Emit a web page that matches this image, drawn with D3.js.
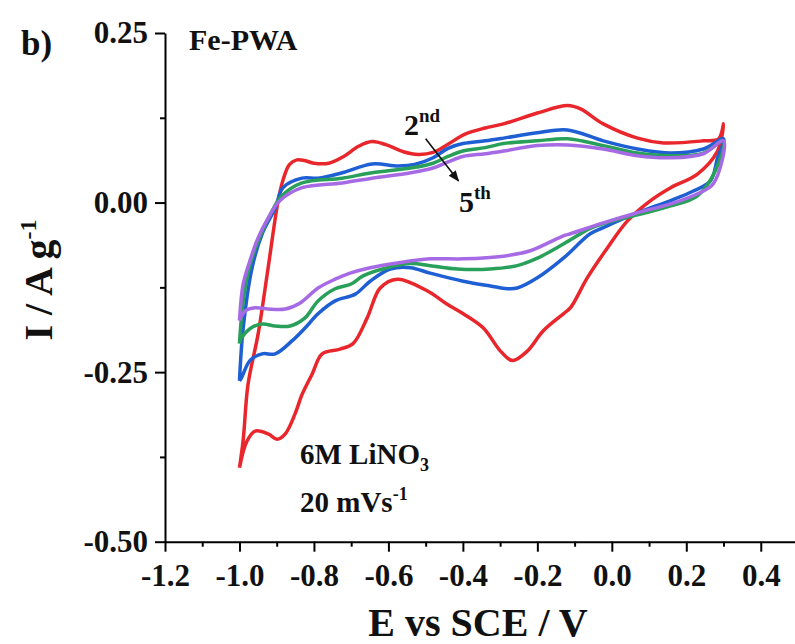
<!DOCTYPE html>
<html>
<head>
<meta charset="utf-8">
<script src="https://cdn.jsdelivr.net/npm/d3@7"></script>
<style>
    body { margin: 0; background: #fff; }
    text { font-family: "Liberation Serif", "Times New Roman", serif; font-weight: bold; fill: #111; }
</style>
</head>
<body>
<div id="chart"></div>
<script>
// cyclic voltammetry, Fe-PWA in 6M LiNO3 at 20 mV/s, [E (V), I (A/g)]
let cycle2 = [
    [-1.000,-0.391],[-0.990,-0.350],[-0.977,-0.268],[-0.950,-0.194],[-0.923,-0.096],[-0.896,0.003],
    [-0.882,0.035],[-0.866,0.056],[-0.846,0.063],[-0.825,0.062],[-0.800,0.058],[-0.760,0.058],
    [-0.720,0.068],[-0.680,0.083],[-0.644,0.090],[-0.605,0.085],[-0.560,0.075],[-0.520,0.071],
    [-0.480,0.074],[-0.440,0.086],[-0.394,0.101],[-0.340,0.110],[-0.291,0.116],[-0.200,0.132],
    [-0.119,0.143],[-0.084,0.138],[-0.023,0.116],[0.069,0.095],[0.139,0.088],[0.246,0.091],
    [0.287,0.094],[0.300,0.116],
    [0.284,0.076],[0.230,0.042],[0.158,0.022],[0.104,0.003],[0.042,-0.027],[-0.012,-0.067],
    [-0.066,-0.111],[-0.111,-0.155],[-0.130,-0.164],[-0.184,-0.189],[-0.227,-0.219],[-0.267,-0.233],
    [-0.299,-0.219],[-0.345,-0.185],[-0.399,-0.164],[-0.442,-0.150],[-0.496,-0.130],[-0.576,-0.113],
    [-0.622,-0.126],[-0.657,-0.170],[-0.695,-0.208],[-0.730,-0.216],[-0.778,-0.223],[-0.805,-0.253],
    [-0.832,-0.283],[-0.851,-0.312],[-0.877,-0.341],[-0.899,-0.349],[-0.923,-0.341],[-0.958,-0.337],
    [-0.980,-0.352],[-1.000,-0.391]
];
let cycle3 = [
    [-1.000,-0.263],[-0.990,-0.185],[-0.966,-0.096],[-0.939,-0.046],[-0.904,-0.008],[-0.883,0.022],
    [-0.832,0.036],[-0.789,0.036],[-0.724,0.044],[-0.644,0.057],[-0.574,0.054],[-0.530,0.056],
    [-0.480,0.066],[-0.440,0.080],[-0.400,0.087],[-0.340,0.091],[-0.291,0.095],[-0.200,0.103],
    [-0.119,0.107],[-0.023,0.091],[0.069,0.079],[0.158,0.073],[0.246,0.079],[0.300,0.094],
    [0.284,0.066],[0.265,0.032],[0.219,0.017],[0.158,0.003],[0.069,-0.015],[-0.023,-0.037],
    [-0.058,-0.046],[-0.130,-0.082],[-0.200,-0.111],[-0.254,-0.126],[-0.281,-0.127],[-0.326,-0.123],
    [-0.399,-0.116],[-0.488,-0.104],[-0.541,-0.096],[-0.595,-0.098],[-0.649,-0.116],[-0.689,-0.135],
    [-0.743,-0.145],[-0.789,-0.164],[-0.824,-0.185],[-0.859,-0.204],[-0.904,-0.223],[-0.939,-0.223],
    [-0.972,-0.233],[-0.995,-0.259],[-1.000,-0.263]
];
let cycle4 = [
    [-1.000,-0.208],[-0.990,-0.145],[-0.972,-0.093],[-0.944,-0.049],[-0.912,-0.012],[-0.886,0.010],
    [-0.832,0.029],[-0.724,0.036],[-0.644,0.044],[-0.540,0.051],[-0.480,0.058],[-0.440,0.068],
    [-0.400,0.076],[-0.340,0.081],[-0.291,0.087],[-0.200,0.091],[-0.119,0.094],[-0.023,0.084],
    [0.069,0.073],[0.158,0.069],[0.246,0.073],[0.300,0.091],
    [0.278,0.047],[0.230,0.010],[0.158,-0.005],[0.069,-0.018],[-0.023,-0.031],[-0.058,-0.038],
    [-0.130,-0.061],[-0.200,-0.082],[-0.254,-0.093],[-0.326,-0.098],[-0.415,-0.098],[-0.488,-0.093],
    [-0.541,-0.090],[-0.603,-0.096],[-0.668,-0.108],[-0.700,-0.120],[-0.743,-0.127],[-0.789,-0.145],
    [-0.824,-0.170],[-0.864,-0.182],[-0.904,-0.182],[-0.939,-0.179],[-0.972,-0.186],[-0.995,-0.200],
    [-1.000,-0.208]
];
let cycle5 = [
    [-1.000,-0.174],[-0.990,-0.120],[-0.972,-0.086],[-0.950,-0.052],[-0.923,-0.023],[-0.891,0.003],
    [-0.832,0.022],[-0.724,0.029],[-0.644,0.036],[-0.540,0.044],[-0.480,0.051],[-0.440,0.060],
    [-0.400,0.068],[-0.340,0.072],[-0.291,0.076],[-0.200,0.084],[-0.119,0.085],[-0.023,0.079],
    [0.069,0.069],[0.158,0.066],[0.246,0.072],[0.300,0.091],
    [0.273,0.028],[0.230,0.013],[0.158,-0.002],[0.069,-0.015],[-0.023,-0.030],[-0.111,-0.046],
    [-0.130,-0.049],[-0.219,-0.071],[-0.291,-0.079],[-0.399,-0.083],[-0.488,-0.083],[-0.576,-0.089],
    [-0.649,-0.096],[-0.703,-0.104],[-0.743,-0.113],[-0.789,-0.126],[-0.837,-0.148],[-0.877,-0.157],
    [-0.923,-0.157],[-0.958,-0.155],[-0.985,-0.160],[-1.000,-0.174]
];

let cycles = [cycle2, cycle3, cycle4, cycle5];
let cycleColors = ["#e8262b", "#1f5fd4", "#28a05a", "#a66be4"];

let xTicks = [-1.2, -1.0, -0.8, -0.6, -0.4, -0.2, 0.0, 0.2, 0.4];
let xMinorTicks = [-1.1, -0.9, -0.7, -0.5, -0.3, -0.1, 0.1, 0.3, 0.5];
let yTicks = [0.25, 0.00, -0.25, -0.50];
let yMinorTicks = [0.125, -0.125, -0.375];

let width = 795, height = 644;

let svg = d3.select("#chart").append("svg")
    .attr("width", width)
    .attr("height", height);

// scales
let x = d3.scaleLinear().domain([-1.2, 0.5]).range([165, 798]);
let y = d3.scaleLinear().domain([-0.5, 0.25]).range([541.7, 33]);

let fmt = (digits) => (d) => d.toFixed(digits);

// x axis, minor ticks first
svg.append("g")
    .attr("transform", `translate(0,${y(-0.5)})`)
    .call(d3.axisBottom(x).tickValues(xMinorTicks).tickSize(5).tickFormat(""))
    .call(g => g.select(".domain").remove())
    .selectAll("line").attr("stroke-width", 2);

let xAxis = svg.append("g")
    .attr("transform", `translate(0,${y(-0.5)})`)
    .call(d3.axisBottom(x).tickValues(xTicks).tickSize(10).tickSizeOuter(0).tickPadding(12).tickFormat(fmt(1)));
xAxis.select(".domain").attr("stroke-width", 2);
xAxis.selectAll("line").attr("stroke-width", 2);
xAxis.selectAll("text").attr("font-size", 31).attr("fill", "#111");

// y axis
svg.append("g")
    .attr("transform", `translate(${x(-1.2)},0)`)
    .call(d3.axisLeft(y).tickValues(yMinorTicks).tickSize(5).tickFormat(""))
    .call(g => g.select(".domain").remove())
    .selectAll("line").attr("stroke-width", 2);

let yAxis = svg.append("g")
    .attr("transform", `translate(${x(-1.2)},0)`)
    .call(d3.axisLeft(y).tickValues(yTicks).tickSize(10).tickSizeOuter(0).tickPadding(7).tickFormat(fmt(2)));
yAxis.select(".domain").attr("stroke-width", 2);
yAxis.selectAll("line").attr("stroke-width", 2);
yAxis.selectAll("text").attr("font-size", 31).attr("fill", "#111");

// cv loops
let line = d3.line()
    .x(d => x(d[0]))
    .y(d => y(d[1]))
    .curve(d3.curveCatmullRom.alpha(0.5));

svg.append("g")
    .selectAll("path")
    .data(cycles)
    .join("path")
    .attr("d", line)
    .attr("fill", "none")
    .attr("stroke", (d, i) => cycleColors[i])
    .attr("stroke-width", 3.5)
    .attr("stroke-linejoin", "round");

// axis titles
svg.append("text")
    .attr("x", 478).attr("y", 636)
    .attr("text-anchor", "middle")
    .attr("font-size", 40)
    .text("E vs SCE / V");

let yTitle = svg.append("text")
    .attr("transform", "translate(52,280) rotate(-90)")
    .attr("text-anchor", "middle")
    .attr("font-size", 40);
yTitle.append("tspan").text("I / A g");
yTitle.append("tspan").attr("font-size", 24).attr("dy", -16).text("-1");

// labels
svg.append("text").attr("x", 21).attr("y", 55).attr("font-size", 35).text("b)");
svg.append("text").attr("x", 189).attr("y", 50).attr("font-size", 30).text("Fe-PWA");

let t1 = svg.append("text").attr("x", 300).attr("y", 464).attr("font-size", 29);
t1.append("tspan").text("6M LiNO");
t1.append("tspan").attr("font-size", 18).attr("dy", 7).text("3");

let t2 = svg.append("text").attr("x", 300).attr("y", 512).attr("font-size", 29);
t2.append("tspan").text("20 mVs");
t2.append("tspan").attr("font-size", 18).attr("dy", -12).text("-1");

let s2 = svg.append("text").attr("x", 404).attr("y", 135).attr("font-size", 30);
s2.append("tspan").text("2");
s2.append("tspan").attr("font-size", 19).attr("dy", -13).text("nd");

let s5 = svg.append("text").attr("x", 459).attr("y", 212).attr("font-size", 30);
s5.append("tspan").text("5");
s5.append("tspan").attr("font-size", 19).attr("dy", -13).text("th");

// arrow from 2nd to 5th
svg.append("defs").append("marker")
    .attr("id", "arrow")
    .attr("viewBox", "0 0 10 10")
    .attr("refX", 9).attr("refY", 5)
    .attr("markerWidth", 7).attr("markerHeight", 7)
    .attr("orient", "auto")
    .append("path")
    .attr("d", "M0,1 L10,5 L0,9 Z")
    .attr("fill", "#111");

svg.append("line")
    .attr("x1", x(-0.50)).attr("y1", y(0.094))
    .attr("x2", x(-0.412)).attr("y2", y(0.032))
    .attr("stroke", "#111")
    .attr("stroke-width", 1.6)
    .attr("marker-end", "url(#arrow)");
</script>
</body>
</html>
